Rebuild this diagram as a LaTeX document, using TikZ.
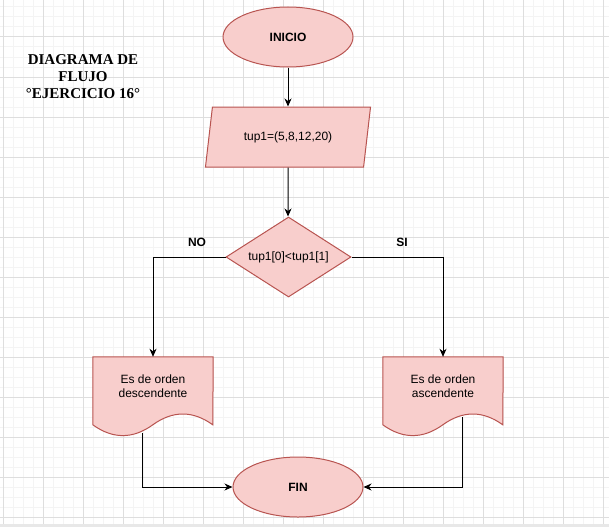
\documentclass[tikz,border=0pt]{standalone}
\usepackage{fontspec}
\setmainfont{Liberation Sans}
\newfontfamily\titulo{Liberation Serif}
\usepackage{xcolor}
\usepackage{tikz}
\usetikzlibrary{shapes.geometric, arrows.meta, positioning, calc}
\definecolor{rojofondo}{HTML}{F8CECC}
\definecolor{rojoborde}{HTML}{B85450}
\definecolor{rejilla}{HTML}{DEDEDE}
\definecolor{rejillafina}{HTML}{F4F4F4}
\pgfdeclarelayer{fondo}
\pgfdeclarelayer{hojas}
\pgfsetlayers{fondo,hojas,main}

\tikzset{
  forma/.style={draw=rojoborde, fill=rojofondo, line width=1pt},
  texto/.style={font=\fontsize{12}{14.5}\selectfont, align=center},
  terminal/.style={forma, texto, ellipse, minimum width=130pt, minimum height=60pt, inner sep=0pt, font=\fontsize{12}{14.5}\selectfont\bfseries},
  datos/.style={forma, texto, trapezium, trapezium left angle=70, trapezium right angle=110, trapezium stretches, minimum width=166pt, minimum height=60pt, inner sep=0pt},
  decision/.style={forma, texto, diamond, aspect=1.56, minimum width=125pt, minimum height=80pt, inner sep=0pt},
  documento/.style={texto, minimum width=120pt, minimum height=58pt, inner sep=0pt},
  flecha/.style={line width=1pt, -{Stealth[length=8pt,width=7pt,inset=2.5pt]}},
  etiqueta/.style={font=\fontsize{12}{14}\selectfont\bfseries}
}

% contorno de documento (onda abajo), desde la esquina superior izquierda
\newcommand{\hoja}[1]{%
  \begin{pgfonlayer}{hojas}
  \draw[forma] (#1.north west) -- (#1.north east) -- ($(#1.north west)+(120,68)$)
    .. controls ($(#1.north west)+(100,53.6)$) and ($(#1.north west)+(80,53.6)$) .. ($(#1.north west)+(60,68)$)
    .. controls ($(#1.north west)+(40,82.4)$) and ($(#1.north west)+(20,82.4)$) .. ($(#1.north west)+(0,68)$) -- cycle;
  \end{pgfonlayer}}

\begin{document}
\begin{tikzpicture}[x=1pt, y=-1pt]
\useasboundingbox (0,0) rectangle (609,527);

% Rejilla
\begin{pgfonlayer}{fondo}
\fill[white] (0,0) rectangle (609,527);
\foreach \x in {3,13,...,603} \draw[rejillafina, line width=1pt] (\x,0) -- (\x,524);
\foreach \y in {7,17,...,517} \draw[rejillafina, line width=1pt] (0,\y) -- (609,\y);
\foreach \x in {3,43,...,603} \draw[rejilla, line width=1pt] (\x,0) -- (\x,524);
\foreach \y in {37,77,...,517} \draw[rejilla, line width=1pt] (0,\y) -- (609,\y);
\fill[rejilla!70] (0,524) rectangle (609,527);
\end{pgfonlayer}

% Titulo
\node[align=center, font=\titulo\bfseries\fontsize{15}{17}\selectfont] (titulo) at (83,77) {DIAGRAMA DE\\FLUJO\\°EJERCICIO 16°};

% Nodos
\node[terminal] (inicio) at (288,37) {INICIO};
\node[datos] (tupla) at (288,137) {tup1=(5,8,12,20)};
\node[decision] (cond) at (288.5,257) {tup1[0]<tup1[1]};
\node[documento] (docno) at (153,386) {Es de orden\\descendente};
\node[documento] (docsi) at (443,386) {Es de orden\\ascendente};
\hoja{docno}
\hoja{docsi}
\node[terminal] (fin) at (298,487) {FIN};

% Etiquetas
\node[etiqueta] (no) at (197,242) {NO};
\node[etiqueta] (si) at (402,242) {SI};

% Conectores
\draw[flecha] (inicio) -- (tupla);
\draw[flecha] (tupla) -- (tupla |- cond.north);
\draw[flecha] (cond.west) -| (docno.north);
\draw[flecha] (cond.east) -| (docsi.north);
\coordinate (salno) at (142,433);
\coordinate (salsi) at (462,417);
\draw[flecha] (salno) |- (fin.west);
\draw[flecha] (salsi) |- (fin.east);
\end{tikzpicture}
\end{document}
